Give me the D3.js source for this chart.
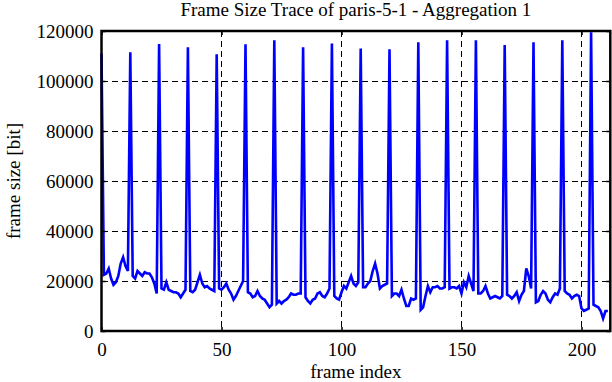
<!DOCTYPE html>
<html>
<head>
<meta charset="utf-8">
<script src="https://cdn.jsdelivr.net/npm/d3@7"></script>
<style>
  html, body { margin: 0; padding: 0; background: #fff; }
</style>
</head>
<body>
<script>
'use strict';

// frame size per frame (bit), frame index = position in array
const frameSizes = [
  111000, 22500, 23000, 25000, 21000, 18500, 19500, 22000, 27000, 29500, 26000, 24000,
  111500, 22000, 21000, 24000, 23000, 22000, 23500, 23000, 23000, 21500, 19000, 15000,
  114800, 17000, 16500, 19500, 16500, 16000, 15500, 15500, 15000, 13500, 15000, 16500,
  113500, 16000, 15500, 16500, 19500, 22500, 19000, 17500, 18000, 17000, 16500, 16000,
  110700, 17000, 16500, 17500, 19000, 16500, 15000, 12500, 14000, 16000, 18000, 20000,
  114700, 15500, 15000, 13500, 14000, 16000, 14000, 13000, 12500, 11000, 9500, 10500,
  116300, 11000, 12000, 11000, 12000, 12500, 13500, 15000, 14500, 14500, 15000, 15000,
  113500, 13500, 12000, 11000, 12500, 13000, 15000, 15500, 14000, 13500, 15000, 17000,
  115000, 14000, 13000, 12500, 15500, 18000, 17000, 19500, 22000, 19000, 18000, 19500,
  113000, 17500, 17500, 19000, 20000, 24000, 27000, 23000, 17000, 18000, 18500, 19000,
  112700, 14000, 15000, 15000, 14000, 16500, 13000, 10000, 10000, 13000, 12500, 13000,
  115500, 8500, 9500, 14000, 18000, 15500, 17500, 17500, 18000, 17000, 17000, 17500,
  116300, 17000, 17500, 17500, 17000, 18000, 15000, 19500, 17500, 22000, 19000, 16000,
  116300, 15000, 15000, 16000, 18000, 15000, 13000, 13500, 14000, 13500, 13000, 14000,
  114400, 14500, 14000, 13000, 14000, 15500, 12000, 14500, 16000, 25000, 22000, 17000,
  115500, 11500, 12000, 14500, 16000, 15000, 12500, 11500, 13500, 15000, 14500, 17000,
  116300, 16000, 15000, 14500, 13000, 14000, 14500, 14000, 9000, 8000, 8500, 9000,
  119500, 10500, 10000, 9500, 8000, 5000, 8000, 8000
];

const xTicks = [0, 50, 100, 150, 200];
const yTicks = [0, 20000, 40000, 60000, 80000, 100000, 120000];
const xDomain = [0, 212];
const yDomain = [0, 120000];

const titleText = 'Frame Size Trace of paris-5-1 - Aggregation 1';
const xLabel = 'frame index';
const yLabel = 'frame size [bit]';

const W = 612, H = 382;
const FONT = '"Liberation Serif", "Times New Roman", serif';
const FS = 19;
const plot = { left: 101.5, right: 610.3, top: 31, bottom: 331 };

const svg = d3.select('body').append('svg')
  .attr('xmlns', 'http://www.w3.org/2000/svg')
  .attr('width', W).attr('height', H)
  .attr('viewBox', `0 0 ${W} ${H}`);
svg.append('rect').attr('width', W).attr('height', H).attr('fill', '#fff');

const x = d3.scaleLinear().domain(xDomain).range([plot.left, plot.right]);
const y = d3.scaleLinear().domain(yDomain).range([plot.bottom, plot.top]);

// dashed grid (inner ticks only)
const grid = svg.append('g')
  .attr('stroke', '#000').attr('stroke-width', 1)
  .attr('stroke-dasharray', '6,4').attr('fill', 'none')
  .attr('shape-rendering', 'crispEdges');
grid.selectAll('line.gy')
  .data(yTicks.filter(v => v > yDomain[0] && v < yDomain[1]))
  .join('line').attr('class', 'gy')
  .attr('x1', plot.left).attr('x2', plot.right)
  .attr('y1', d => y(d)).attr('y2', d => y(d));
grid.selectAll('line.gx')
  .data(xTicks.filter(v => v > xDomain[0] && v < xDomain[1]))
  .join('line').attr('class', 'gx')
  .attr('y1', plot.top).attr('y2', plot.bottom)
  .attr('x1', d => x(d)).attr('x2', d => x(d));

// the trace
const line = d3.line().x((d, i) => x(i)).y(d => y(d));
svg.append('path')
  .datum(frameSizes)
  .attr('d', line)
  .attr('fill', 'none')
  .attr('stroke', '#0000ff')
  .attr('stroke-width', 2.6);

// axes: inward ticks, labels outside
function styleAxis(g) {
  g.select('.domain').remove();
  g.selectAll('.tick line').attr('stroke', '#000').attr('stroke-width', 1.5);
  g.selectAll('.tick text')
    .attr('font-family', FONT).attr('font-size', FS).attr('fill', '#000');
}
svg.append('g')
  .attr('transform', `translate(${plot.left},0)`)
  .call(d3.axisLeft(y).tickValues(yTicks).tickFormat(d3.format('d')).tickSize(-4).tickPadding(8))
  .call(styleAxis);
svg.append('g')
  .attr('transform', `translate(${plot.right},0)`)
  .call(d3.axisRight(y).tickValues(yTicks).tickFormat('').tickSize(-4))
  .call(styleAxis);
svg.append('g')
  .attr('transform', `translate(0,${plot.bottom})`)
  .call(d3.axisBottom(x).tickValues(xTicks).tickFormat(d3.format('d')).tickSize(-4).tickPadding(12))
  .call(styleAxis);
svg.append('g')
  .attr('transform', `translate(0,${plot.top})`)
  .call(d3.axisTop(x).tickValues(xTicks).tickFormat('').tickSize(-4))
  .call(styleAxis);

// border
svg.append('rect')
  .attr('x', plot.left).attr('y', plot.top)
  .attr('width', plot.right - plot.left).attr('height', plot.bottom - plot.top)
  .attr('fill', 'none').attr('stroke', '#000').attr('stroke-width', 2.5);

// titles
svg.append('text')
  .attr('x', (plot.left + plot.right) / 2).attr('y', 12)
  .attr('text-anchor', 'middle').attr('dominant-baseline', 'middle')
  .attr('font-family', FONT).attr('font-size', FS)
  .text(titleText);
svg.append('text')
  .attr('x', (plot.left + plot.right) / 2).attr('y', 374)
  .attr('text-anchor', 'middle').attr('dominant-baseline', 'middle')
  .attr('font-family', FONT).attr('font-size', FS)
  .text(xLabel);
svg.append('text')
  .attr('transform', `translate(16,${(plot.top + plot.bottom) / 2}) rotate(-90)`)
  .attr('text-anchor', 'middle').attr('dominant-baseline', 'middle')
  .attr('font-family', FONT).attr('font-size', FS)
  .text(yLabel);
</script>
</body>
</html>
